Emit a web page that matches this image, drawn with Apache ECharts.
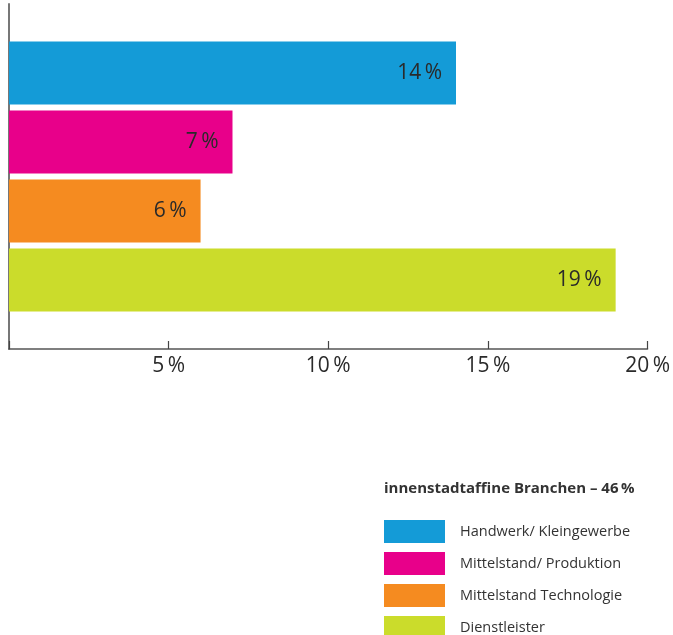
<!DOCTYPE html>
<html><head><meta charset="utf-8">
<script src="https://cdn.jsdelivr.net/npm/echarts@6/dist/echarts.min.js"></script>
<style>html,body{margin:0;padding:0;background:#fff}#c{width:673px;height:635px}</style>
</head><body><div id="c"></div>
<script>
const categories = ['Handwerk/ Kleingewerbe', 'Mittelstand/ Produktion', 'Mittelstand Technologie', 'Dienstleister'];
const values = [14, 7, 6, 19];
const colors = ['#149bd7', '#e8008a', '#f58b20', '#cbdc2b'];
const xTicks = [0, 5, 10, 15, 20];
const legendTitle = 'innenstadtaffine Branchen \u2013 46\u2009%';
const FONT = 'Open Sans';

const axisCats = [''].concat(categories, ['']);
const series = categories.map((name, i) => ({
  name: name,
  type: 'bar',
  barWidth: 63,
  barGap: '-100%',
  itemStyle: { color: colors[i] },
  label: {
    show: true, position: 'insideRight', distance: 14,
    fontFamily: FONT, fontSize: 21, color: '#2a2a2a',
    formatter: p => p.value + '\u2009%'
  },
  data: axisCats.map(c => c === name ? values[i] : '-')
}));

const chart = echarts.init(document.getElementById('c'), null, { renderer: 'canvas' });
chart.setOption({
  animation: false,
  textStyle: { fontFamily: FONT },
  title: {
    text: legendTitle, left: 384, top: 481, padding: 0,
    textStyle: { fontFamily: FONT, fontSize: 15, fontWeight: 'bold', color: '#333' }
  },
  legend: {
    orient: 'vertical', left: 384, top: 520, height: 140, padding: 0,
    itemWidth: 61, itemHeight: 23, itemGap: 9,
    icon: 'rect',
    data: categories,
    textStyle: { fontFamily: FONT, fontSize: 14.5, color: '#333', padding: [0, 0, 0, 10] }
  },
  grid: { left: 9, right: 21, top: 4, bottom: 286, containLabel: false },
  xAxis: {
    type: 'value', min: xTicks[0], max: xTicks[xTicks.length - 1], interval: 5,
    splitLine: { show: false },
    axisLine: { show: true, lineStyle: { color: '#555', width: 1.5 } },
    axisTick: { show: true, inside: true, length: 8, lineStyle: { color: '#444', width: 1.2 } },
    axisLabel: {
      margin: 7, fontFamily: FONT, fontSize: 21, color: '#2a2a2a',
      formatter: v => v === 0 ? '' : v + '\u2009%'
    }
  },
  yAxis: {
    type: 'category', data: axisCats, inverse: true, boundaryGap: false,
    axisLine: { show: true, lineStyle: { color: '#777', width: 2 } },
    axisTick: { show: false }, axisLabel: { show: false }, splitLine: { show: false }
  },
  series: series
});
</script></body></html>
